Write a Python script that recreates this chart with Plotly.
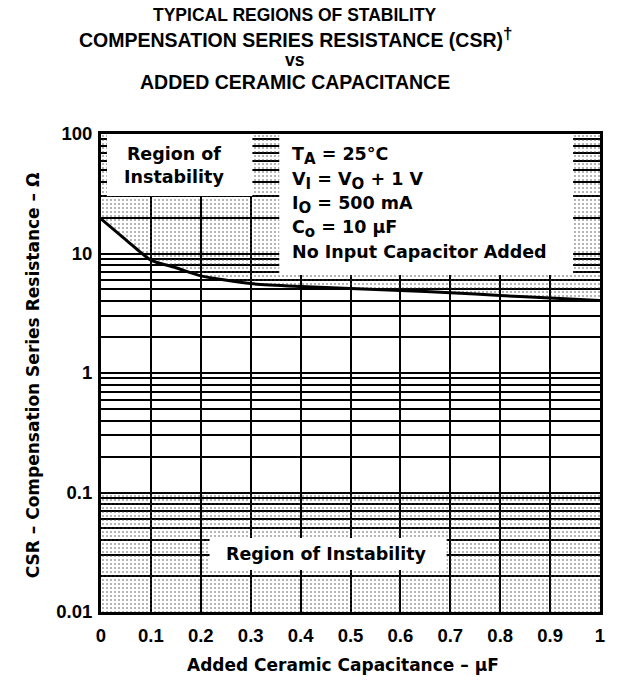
import plotly.graph_objects as go

# Upper CSR stability limit vs added ceramic capacitance
cap_uF = [0, 0.05, 0.1, 0.15, 0.2, 0.3, 0.4, 0.5, 0.6, 0.7, 0.8, 0.9, 1.0]
csr_upper_ohm = [19.5, 13.0, 8.8, 7.6, 6.5, 5.6, 5.3, 5.1, 4.9, 4.7, 4.45, 4.25, 4.05]

# Lower CSR stability limit (flat) and chart limits
cap_span_uF = [0, 1]
csr_lower_ohm = [0.1, 0.1]
csr_floor_ohm = 0.01
csr_ceiling_ohm = 100

# Axis ticks
x_tickvals = [0, 0.1, 0.2, 0.3, 0.4, 0.5, 0.6, 0.7, 0.8, 0.9, 1.0]
x_ticktext = ["0", "0.1", "0.2", "0.3", "0.4", "0.5", "0.6", "0.7", "0.8", "0.9", "1"]
y_decades = [0.01, 0.1, 1, 10, 100]
y_decade_text = ["0.01", "0.1", "1", "10", "100"]

# Conditions text
SUB = '<sub><span style="font-size:15px">{}</span></sub>'
conditions = [
    "T" + SUB.format("A") + " = 25°C",
    "V" + SUB.format("I") + " = V" + SUB.format("O") + " + 1 V",
    "I" + SUB.format("O") + " = 500 mA",
    "C" + SUB.format("o") + " = 10 µF",
    "No Input Capacitor Added",
]
title_lines = [
    ("TYPICAL REGIONS OF STABILITY", 17.5),
    ('COMPENSATION SERIES RESISTANCE (CSR)<sup><span style="font-size:17px">†</span></sup>', 19.5),
    ("vs", 17.5),
    ("ADDED CERAMIC CAPACITANCE", 19.5),
]

# Log gridlines at 1..9 per decade
y_tickvals, y_ticktext = [], []
for d, lab in zip(y_decades[:-1], y_decade_text[:-1]):
    for m in range(1, 10):
        y_tickvals.append(m * d)
        y_ticktext.append(lab if m == 1 else "")
y_tickvals.append(y_decades[-1])
y_ticktext.append(y_decade_text[-1])

TITLE_FONT = "Liberation Sans"
BODY_FONT = "DejaVu Sans"
stipple = dict(shape=".", size=4, solidity=0.2, fgcolor="#3a3a3a", bgcolor="rgba(0,0,0,0)")

fig = go.Figure()

# Stippled instability region above the curve
fig.add_trace(go.Scatter(
    x=cap_uF + cap_span_uF[::-1],
    y=csr_upper_ohm + [csr_ceiling_ohm, csr_ceiling_ohm],
    mode="none", fill="toself", fillcolor="rgba(0,0,0,0)",
    fillpattern=stipple, hoverinfo="skip", showlegend=False,
))
# Stippled instability region below the lower limit
fig.add_trace(go.Scatter(
    x=cap_span_uF + cap_span_uF[::-1],
    y=[csr_floor_ohm, csr_floor_ohm] + csr_lower_ohm[::-1],
    mode="none", fill="toself", fillcolor="rgba(0,0,0,0)",
    fillpattern=stipple, hoverinfo="skip", showlegend=False,
))
# Boundary curve
fig.add_trace(go.Scatter(
    x=cap_uF, y=csr_upper_ohm, mode="lines",
    line=dict(color="black", width=3, shape="spline", smoothing=0.6),
    showlegend=False,
))

# Plot area in pixels: x 101..602, y 134..612
def px(xp):
    return (xp - 101) / 501

def py(yp):
    return (612 - yp) / 478

boxes = [
    (107, 253, 134, 196),
    (280, 575, 134, 275),
    (210, 448, 538, 570),
]
shapes = [
    dict(type="rect", xref="paper", yref="paper",
         x0=px(a), x1=px(b), y0=py(d), y1=py(c),
         fillcolor="white", line=dict(width=0), layer="above")
    for a, b, c, d in boxes
]

annotations = []
title_y = [15, 37.5, 59.5, 81.5]
for (txt, size), yy in zip(title_lines, title_y):
    annotations.append(dict(
        text=txt, xref="paper", yref="paper", x=px(296), y=py(yy),
        xanchor="center", yanchor="middle", showarrow=False,
        font=dict(family=TITLE_FONT, size=size, color="black", weight="bold"),
    ))

body = dict(family=BODY_FONT, size=17.5, color="black", weight="bold")
annotations.append(dict(
    text="Region of<br>Instability", xref="paper", yref="paper",
    x=px(174), y=py(166), xanchor="center", yanchor="middle", showarrow=False,
    font=body,
))
annotations.append(dict(
    text="Region of Instability", xref="paper", yref="paper",
    x=px(327), y=py(554), xanchor="center", yanchor="middle", showarrow=False,
    font=body,
))
for line, yy in zip(conditions, [156, 181, 205, 229, 252]):
    annotations.append(dict(
        text=line, xref="paper", yref="paper", x=px(291), y=py(yy),
        xanchor="left", yanchor="middle", showarrow=False, align="left",
        font=body,
    ))

# Axis titles
annotations.append(dict(
    text="Added Ceramic Capacitance – µF", xref="paper", yref="paper",
    x=px(344), y=py(665), xanchor="center", yanchor="middle", showarrow=False,
    font=dict(family=BODY_FONT, size=17, color="black", weight="bold"),
))
annotations.append(dict(
    text="CSR – Compensation Series Resistance – Ω", xref="paper", yref="paper",
    x=px(33), y=py(375), xanchor="center", yanchor="middle", showarrow=False,
    textangle=-90,
    font=dict(family=BODY_FONT, size=17, color="black", weight="bold"),
))

axis_common = dict(
    showline=True, mirror=True, linecolor="black", linewidth=3,
    showgrid=True, gridcolor="black", gridwidth=2, zeroline=False,
    ticks="", tickfont=dict(family=TITLE_FONT, size=18.5, color="black", weight="bold"),
)

fig.update_layout(
    width=617, height=683,
    margin=dict(l=101, r=15, t=134, b=71),
    paper_bgcolor="white", plot_bgcolor="white",
    xaxis=dict(range=[0, 1], tickmode="array", tickvals=x_tickvals,
               ticktext=x_ticktext, ticklabelstandoff=5, **axis_common),
    yaxis=dict(type="log", range=[-2, 2], tickmode="array", tickvals=y_tickvals,
               ticktext=y_ticktext, ticklabelstandoff=2, **axis_common),
    shapes=shapes,
    annotations=annotations,
    showlegend=False,
)

fig.write_html("out.html")
